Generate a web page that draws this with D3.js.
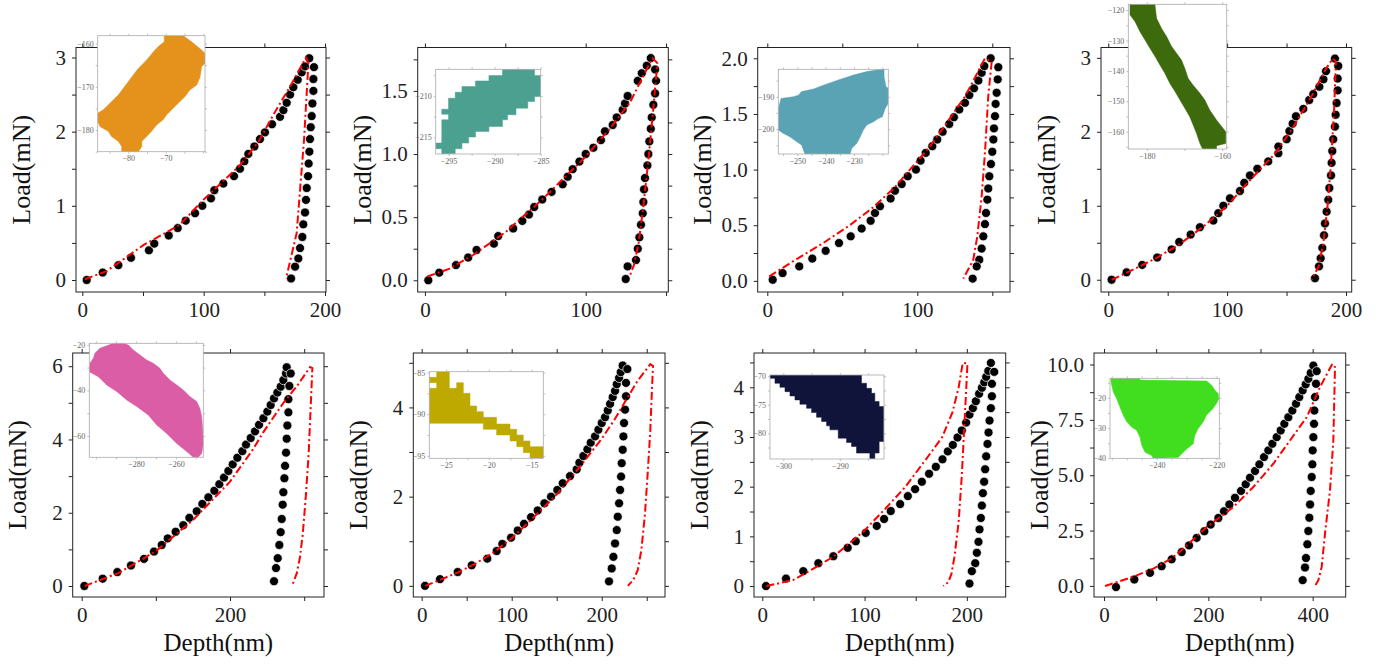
<!DOCTYPE html>
<html><head><meta charset="utf-8">
<script src="https://cdn.jsdelivr.net/npm/d3@7"></script>
<style>
body{margin:0;background:#fff}
svg{display:block}
text{font-family:"Liberation Serif","DejaVu Serif",serif}
</style>
</head><body>
<svg id="c" width="1384" height="669"></svg>
<script>
// ---------- experimental points (depth nm, load mN): loading then unloading ----------
const p1Dots=[[3.6,0],[16.8,0.10],[29.7,0.20],[40.1,0.30],[54.9,0.40],[59.3,0.49],[71.2,0.60],[78.6,0.70],[85.2,0.80],[92.9,0.90],[98.9,1.00],[106.0,1.10],[108.8,1.21],[116.2,1.30],[125.0,1.40],[129.9,1.50],[133.5,1.60],[136.8,1.70],[141.8,1.80],[146.4,1.90],[150.5,1.99],[156.3,2.10],[162.9,2.20],[165.7,2.29],[168.4,2.39],[171.2,2.50],[173.9,2.60],[177.5,2.70],[180.8,2.80],[183.5,2.88],[187.0,2.99],
 [190.9,2.87],[190.4,2.71],[190.4,2.55],[189.6,2.38],[189.0,2.21],[188.2,2.06],[187.6,1.90],[187.1,1.73],[186.5,1.57],[186.0,1.40],[184.9,1.24],[184.3,1.08],[183.5,0.91],[182.1,0.75],[181.3,0.58],[179.4,0.43],[178.0,0.29],[175.3,0.18],[172.0,0.02]];
const p2Dots=[[2.1,0.0],[8.9,0.06],[19.3,0.12],[26.9,0.18],[32.1,0.24],[42.9,0.29],[45.6,0.35],[54.9,0.41],[60.6,0.47],[64.7,0.52],[68.0,0.58],[73.0,0.64],[78.8,0.70],[85.7,0.76],[88.8,0.82],[91.9,0.88],[96.1,0.94],[100.0,1.00],[104.8,1.05],[109.5,1.11],[112.0,1.18],[116.8,1.23],[119.3,1.29],[123.0,1.35],[124.5,1.40],[126.1,1.46],[132.4,1.58],[134.9,1.64],[138.0,1.70],[140.5,1.76],
 [143.2,1.67],[143.8,1.58],[143.2,1.48],[142.1,1.39],[141.1,1.29],[140.5,1.20],[139.6,1.10],[139.0,1.00],[138.4,0.91],[136.9,0.81],[136.3,0.72],[135.9,0.62],[135.5,0.53],[134.4,0.44],[133.4,0.34],[132.4,0.25],[131.3,0.16],[126.1,0.11],[124.9,0.01]];
const p3Dots=[[3.6,0.01],[10.2,0.07],[21.3,0.13],[30.0,0.20],[38.9,0.27],[47.8,0.34],[55.6,0.40],[62.9,0.47],[68.9,0.54],[71.8,0.61],[75.1,0.67],[82.2,0.74],[85.1,0.81],[89.6,0.87],[93.6,0.94],[99.1,1.00],[102.2,1.08],[105.6,1.15],[110.0,1.21],[113.3,1.27],[116.9,1.34],[121.3,1.41],[124.4,1.47],[128.0,1.54],[131.8,1.60],[134.7,1.67],[137.8,1.73],[140.7,1.80],[142.9,1.87],[144.7,1.93],[148.9,2.00],
 [154.0,1.92],[153.6,1.81],[152.9,1.69],[152.2,1.59],[151.8,1.48],[151.1,1.37],[150.7,1.27],[150.0,1.16],[149.1,1.05],[148.0,0.94],[147.3,0.83],[146.7,0.73],[145.8,0.61],[145.1,0.51],[144.0,0.40],[142.9,0.29],[141.3,0.19],[139.6,0.13],[136.9,0.02]];
const p4Dots=[[2.8,0],[15.4,0.10],[28.6,0.20],[41.2,0.30],[53.3,0.41],[59.7,0.51],[69.3,0.61],[77.1,0.71],[88.4,0.80],[92.6,0.90],[96.8,1.00],[102.4,1.10],[110.8,1.20],[114.4,1.31],[119.2,1.41],[125.4,1.50],[134.6,1.60],[143.1,1.71],[143.1,1.80],[150.1,1.90],[152.4,2.01],[155.1,2.11],[157.9,2.21],[164.1,2.31],[169.1,2.43],[172.5,2.51],[177.6,2.61],[181.0,2.71],[183.2,2.82],[190.7,2.99],
 [193.5,2.89],[193.0,2.72],[193.0,2.56],[192.1,2.39],[191.3,2.23],[190.7,2.07],[189.3,1.90],[188.5,1.74],[187.9,1.58],[187.4,1.41],[186.0,1.24],[185.1,1.08],[183.7,0.92],[182.3,0.76],[181.5,0.60],[180.1,0.43],[178.7,0.29],[177.3,0.18],[173.9,0.02]];
const p5Dots=[[3.6,0],[28.3,0.20],[48.1,0.38],[66.5,0.56],[84.0,0.74],[97.5,0.94],[107.9,1.12],[116.0,1.30],[126.7,1.48],[137.0,1.66],[145.2,1.86],[155.1,2.04],[162.7,2.24],[170.8,2.42],[178.9,2.60],[185.6,2.78],[191.9,2.96],[197.8,3.14],[203.6,3.32],[209.9,3.50],[216.6,3.68],[221.6,3.86],[227.9,4.04],[233.7,4.22],[239.1,4.40],[245.0,4.58],[250.3,4.76],[254.8,4.94],[259.3,5.12],[263.8,5.28],[268.3,5.44],[271.9,5.62],[275.5,5.80],[276.4,5.97],
 [281.8,5.80],[280.0,5.46],[278.7,5.10],[278.7,4.74],[277.3,4.38],[276.4,4.02],[275.5,3.64],[274.2,3.28],[273.3,2.94],[271.9,2.56],[271.0,2.22],[269.7,1.83],[268.3,1.47],[266.5,1.12],[264.3,0.76],[262.0,0.49],[259.3,0.13]];
const p6Dots=[[3.7,0],[20.4,0.15],[40.0,0.31],[55.6,0.46],[72.9,0.61],[83.3,0.78],[89.6,0.94],[99.3,1.08],[106.7,1.24],[113.7,1.39],[121.5,1.54],[128.9,1.69],[136.3,1.85],[143.7,2.00],[150.7,2.15],[156.7,2.30],[164.8,2.46],[172.2,2.61],[175.2,2.76],[179.6,2.91],[184.1,3.06],[187.8,3.21],[192.6,3.35],[196.3,3.50],[200.0,3.65],[203.7,3.78],[206.7,3.93],[209.3,4.08],[212.2,4.23],[214.8,4.37],[216.7,4.52],[219.3,4.66],[221.1,4.79],[223.3,4.94],
 [228.5,4.86],[227.0,4.55],[227.0,4.25],[225.9,3.95],[224.8,3.65],[224.1,3.35],[223.3,3.05],[222.2,2.75],[221.5,2.45],[220.4,2.15],[219.3,1.85],[217.8,1.55],[216.7,1.25],[214.8,0.95],[213.0,0.65],[211.1,0.39],[208.1,0.10]];
const p7Dots=[[3.6,0],[23.2,0.15],[40.1,0.30],[54.8,0.46],[69.5,0.60],[83.5,0.77],[91.4,0.90],[101.1,1.07],[111.9,1.21],[119.1,1.35],[125.6,1.51],[134.8,1.65],[142.3,1.81],[149.4,1.95],[156.0,2.10],[163.1,2.26],[169.7,2.40],[176.2,2.55],[181.4,2.71],[186.3,2.84],[190.9,2.99],[195.1,3.13],[199.3,3.29],[202.6,3.45],[205.9,3.58],[208.8,3.72],[212.0,3.87],[214.7,3.99],[217.0,4.10],[218.9,4.21],[221.0,4.33],[223.5,4.49],
 [226.8,4.31],[224.5,4.07],[224.5,3.82],[223.5,3.58],[222.2,3.33],[221.2,3.09],[220.2,2.86],[218.9,2.61],[217.9,2.35],[216.9,2.10],[215.7,1.87],[214.7,1.62],[213.7,1.37],[212.4,1.14],[211.4,0.89],[209.8,0.67],[208.2,0.46],[204.9,0.30],[202.6,0.05]];
const p8Dots=[[23.0,-0.05],[58.1,0.29],[88.2,0.59],[110.5,0.89],[129.7,1.20],[148.9,1.53],[163.0,1.83],[177.6,2.17],[192.3,2.47],[204.5,2.77],[219.2,3.07],[230.0,3.37],[240.3,3.68],[251.1,3.98],[262.6,4.29],[271.6,4.59],[279.9,4.89],[289.5,5.19],[297.8,5.49],[306.7,5.82],[315.0,6.12],[322.7,6.42],[331.0,6.72],[338.7,7.02],[345.7,7.32],[353.4,7.62],[361.0,7.92],[368.1,8.23],[374.4,8.53],[380.8,8.83],[386.6,9.10],[391.7,9.35],[396.2,9.62],[401.3,9.95],
 [407.7,9.70],[406.4,9.13],[404.5,8.53],[403.2,7.92],[402.6,7.32],[401.3,6.72],[400.0,6.12],[399.4,5.49],[398.1,4.92],[396.2,4.29],[395.0,3.68],[393.6,3.08],[391.7,2.48],[389.8,1.88],[387.2,1.26],[385.3,0.83],[380.8,0.26]];

// ---------- simulated curves (red dash-dot) ----------
const p1Sim=[[2.2,0.01],[20,0.12],[50.3,0.47],[80,0.74],[99.7,1.08],[130,1.55],[145,1.86],[159.6,2.29],[172,2.63],[184.3,3.0],[186.3,2.92],[182.7,1.89],[176.6,0.63],[167.9,0.02]];
const p2Sim=[[1.5,0.03],[15,0.09],[30,0.2],[50,0.38],[73,0.64],[100,0.98],[115,1.2],[127.6,1.41],[141.5,1.76],[144.6,1.72],[142,1.35],[139,0.95],[136,0.6],[133,0.3],[130,0.12],[127.6,0.04]];
const p3Sim=[[1.3,0.04],[12.9,0.14],[25,0.24],[37.3,0.34],[55,0.5],[69.6,0.65],[85,0.84],[95.1,1.0],[108,1.2],[119.6,1.42],[132,1.66],[145.1,2.0],[149.6,1.97],[147.3,1.66],[145.1,1.15],[142.9,0.76],[140,0.4],[137.3,0.19],[130.7,0.02]];
const p4Sim=[[3,0],[20,0.13],[40,0.29],[60,0.48],[80,0.72],[100,1.0],[120,1.36],[140,1.7],[155,2.05],[170,2.45],[183,2.85],[189,2.99],[191.5,2.95],[190,2.3],[187.5,1.6],[184.5,1.0],[181,0.5],[177,0.18],[171,0]];
const p5Sim=[[4,0],[50,0.36],[100,0.95],[150,1.8],[200,2.85],[230,3.7],[245,4.2],[255,4.5],[272,5.0],[290,5.45],[308,5.98],[311,5.95],[309,5.0],[306,3.6],[302,2.4],[298,1.4],[294,0.75],[290,0.35],[284,0.02]];
const p6Sim=[[4,0],[20,0.13],[40,0.3],[60,0.5],[80,0.75],[100,1.07],[120,1.45],[150,2.05],[175,2.65],[200,3.3],[215,3.75],[228,4.2],[240,4.6],[254,4.97],[257,4.93],[256,4.5],[254,3.5],[251,2.5],[248,1.6],[244,0.8],[240,0.35],[235,0.13],[229,0]];
const p7Sim=[[4,0],[30,0.12],[50,0.35],[70,0.6],[99,1.1],[120,1.55],[140,2.0],[160,2.55],[176,3.0],[186,3.5],[192,4.0],[196,4.49],[200.6,4.48],[199,3.8],[197,3.0],[195,2.2],[192,1.3],[188,0.6],[185,0.25],[182,0.08],[177,0]];
const p8Sim=[[2,0],[56,0.41],[94.6,0.78],[130,1.25],[158.5,1.83],[196.8,2.66],[247.9,3.56],[286.3,4.47],[324.6,5.52],[356.5,6.57],[388.5,7.62],[414,8.98],[437.7,10.03],[442.8,9.88],[439.6,6.57],[433.2,4.32],[423.6,2.36],[417.3,0.86],[410.9,0.26],[404.5,0]];

// ---------- tick values ----------
const p1XTicks=[0,100,200], p1YTicks=[0,1,2,3];
const p2XTicks=[0,100], p2YTicks=[0,0.5,1.0,1.5];
const p3XTicks=[0,100], p3YTicks=[0,0.5,1.0,1.5,2.0];
const p4XTicks=[0,100,200], p4YTicks=[0,1,2,3];
const p5XTicks=[0,200], p5YTicks=[0,2,4,6];
const p6XTicks=[0,100,200], p6YTicks=[0,2,4];
const p7XTicks=[0,100,200], p7YTicks=[0,1,2,3,4];
const p8XTicks=[0,200,400], p8YTicks=[0,2.5,5.0,7.5,10.0];

// ---------- inset grain maps (outline polygons in map coordinates) ----------
const i1Shape=[[-70.4,-158.2],[-65.3,-158.2],[-63.1,-159.6],[-60.4,-161.5],[-59.5,-162.3],[-59.5,-164.6],[-60.4,-165.3],[-60.8,-167.7],[-61.7,-169.6],[-63.5,-170.7],[-64.9,-172.3],[-66.2,-173.4],[-68.4,-175.3],[-69.8,-176.5],[-70.7,-177.6],[-72.4,-178.8],[-73.8,-180.3],[-75.1,-181.5],[-76.4,-182.6],[-76.4,-183.8],[-77.3,-185],[-81.8,-185],[-81.8,-183.8],[-82.7,-182.6],[-84.5,-181.5],[-85.4,-180.3],[-87.6,-179.2],[-88.2,-178],[-88.2,-176.1],[-86.7,-175.3],[-85.4,-174.2],[-84.0,-173],[-82.7,-171.9],[-81.3,-170.3],[-80.0,-168.8],[-78.7,-167.3],[-77.3,-165.7],[-76.0,-164.6],[-74.7,-163.4],[-73.3,-161.9],[-72.0,-160.7],[-70.4,-159.6]];
const i2Shape=[[-289.15,-206.8],[-285.67,-206.8],[-285.67,-207.56],[-284.94,-207.56],[-284.94,-210.08],[-285.67,-210.08],[-285.67,-210.68],[-286.4,-210.68],[-286.4,-211.48],[-287.68,-211.48],[-287.68,-212.28],[-288.6,-212.28],[-288.6,-212.88],[-289.15,-212.88],[-289.15,-213.68],[-290.62,-213.68],[-290.62,-214.28],[-292.08,-214.28],[-292.08,-214.96],[-292.82,-214.96],[-292.82,-215.68],[-293.55,-215.68],[-293.55,-216.36],[-294.28,-216.36],[-294.28,-216.96],[-295.74,-216.96],[-295.74,-216.36],[-296.4,-216.36],[-296.4,-215.68],[-295.74,-215.68],[-295.74,-212.88],[-295.01,-212.88],[-295.01,-212.2],[-295.74,-212.2],[-295.74,-211.6],[-295.01,-211.6],[-295.01,-210.28],[-294.28,-210.28],[-294.28,-209.56],[-293.55,-209.56],[-293.55,-208.88],[-292.08,-208.88],[-292.08,-208.2],[-290.62,-208.2],[-290.62,-207.56],[-289.15,-207.56]];
const i3Shape=[[-255.75,-190.5],[-251.4,-190.0],[-249.6,-189.5],[-248.5,-188.4],[-244.3,-187.6],[-240.8,-186.4],[-235.5,-184.8],[-230.2,-183.3],[-225.5,-182.2],[-220.2,-181.5],[-219.4,-181.5],[-219.4,-183.8],[-218.7,-186.9],[-217.9,-187.4],[-217.9,-192.0],[-219.0,-193.6],[-220.0,-196.2],[-221.4,-196.7],[-223.1,-197.7],[-225.5,-198.7],[-226.7,-200.3],[-227.8,-202.4],[-229.0,-204.4],[-230.8,-206.0],[-231.4,-207.7],[-247.3,-207.7],[-248.5,-204.9],[-250.2,-203.9],[-252.6,-202.4],[-255.0,-201.3],[-256.7,-200.3],[-256.7,-193.8]];
const i4Shape=[[-184.45,-118.1],[-177.84,-118.1],[-177.4,-122.7],[-176.1,-126.0],[-174.75,-128.7],[-173.4,-132.0],[-172.1,-134.2],[-170.8,-136.4],[-169.9,-139.2],[-169.0,-142.5],[-167.7,-144.7],[-165.9,-147.4],[-164.6,-149.6],[-163.3,-152.9],[-161.5,-156.2],[-159.05,-160.0],[-159.05,-163.9],[-161.5,-164.6],[-161.5,-165.7],[-165.2,-165.7],[-165.9,-163.9],[-166.8,-160.6],[-167.7,-157.8],[-168.6,-155.1],[-169.9,-152.3],[-171.2,-149.6],[-172.5,-146.8],[-173.9,-144.1],[-175.2,-140.8],[-176.5,-138.1],[-177.8,-135.3],[-179.2,-132.5],[-180.5,-129.8],[-181.8,-127.1],[-183.1,-123.8],[-184.45,-121.6]];
const i5Shape=[[-303.3,-30.7],[-303.0,-28.1],[-301.3,-25.9],[-300.5,-23.7],[-298.0,-21.5],[-291.3,-19.3],[-286.3,-19.3],[-283.8,-20.0],[-281.3,-22.2],[-278.0,-24.4],[-274.6,-26.6],[-271.3,-28.1],[-268.0,-30.3],[-266.3,-32.5],[-263.0,-35.4],[-259.6,-37.6],[-256.3,-39.8],[-253.0,-42.7],[-249.6,-44.9],[-248.0,-47.9],[-247.1,-51.5],[-246.6,-57.4],[-246.3,-63.3],[-247.1,-67.7],[-248.8,-69.4],[-251.3,-69.4],[-254.6,-66.9],[-259.6,-63.3],[-264.6,-58.9],[-269.6,-55.2],[-273.8,-50.8],[-279.6,-47.1],[-284.6,-44.2],[-289.6,-40.5],[-294.6,-37.6],[-298.8,-34.0],[-303.3,-31.8]];
const i6Shape=[[-26.95,-85.58],[-26.09,-85.58],[-26.09,-84.9],[-24.61,-84.9],[-24.61,-86.9],[-23.76,-86.9],[-23.76,-86.22],[-22.98,-86.22],[-22.98,-87.5],[-22.2,-87.5],[-22.2,-89.02],[-21.42,-89.02],[-21.42,-89.7],[-20.65,-89.7],[-20.65,-90.38],[-19.1,-90.38],[-19.1,-91.18],[-17.53,-91.18],[-17.53,-91.82],[-16.75,-91.82],[-16.75,-92.5],[-15.98,-92.5],[-15.98,-93.22],[-15.2,-93.22],[-15.2,-93.9],[-13.65,-93.9],[-13.65,-95.3],[-15.2,-95.3],[-15.2,-94.62],[-15.98,-94.62],[-15.98,-93.9],[-16.75,-93.9],[-16.75,-93.22],[-17.53,-93.22],[-17.53,-92.5],[-19.1,-92.5],[-19.1,-91.82],[-20.65,-91.82],[-20.65,-91.1],[-26.95,-91.1],[-26.95,-86.9],[-26.09,-86.9],[-26.09,-86.22],[-26.95,-86.22]];
const i7Shape=[[-302.35,-69.8],[-286.18,-69.8],[-286.18,-71.25],[-285.29,-71.25],[-285.29,-72.13],[-284.41,-72.13],[-284.41,-73.0],[-283.82,-73.0],[-283.82,-74.45],[-283.06,-74.45],[-283.06,-75.33],[-282.23,-75.33],[-282.23,-81.43],[-283.06,-81.43],[-283.06,-83.47],[-283.82,-83.47],[-283.82,-84.46],[-284.7,-84.46],[-284.7,-83.47],[-287.06,-83.47],[-287.06,-82.31],[-287.94,-82.31],[-287.94,-81.61],[-288.82,-81.61],[-288.82,-80.85],[-290.29,-80.85],[-290.29,-79.4],[-291.76,-79.4],[-291.76,-78.7],[-292.35,-78.7],[-292.35,-77.94],[-293.23,-77.94],[-293.23,-77.19],[-294.12,-77.19],[-294.12,-76.37],[-295.0,-76.37],[-295.0,-75.62],[-295.88,-75.62],[-295.88,-74.92],[-297.06,-74.92],[-297.06,-74.16],[-297.94,-74.16],[-297.94,-73.46],[-298.82,-73.46],[-298.82,-72.71],[-299.7,-72.71],[-299.7,-71.95],[-300.59,-71.95],[-300.59,-71.25],[-301.47,-71.25],[-301.47,-70.38],[-302.35,-70.38]];
const i8Shape=[[-255.3,-13.5],[-245.6,-13.5],[-245.6,-14.1],[-223.4,-14.4],[-221.7,-15.7],[-220.6,-17.4],[-219.5,-18.5],[-219.2,-20.2],[-220.0,-21.8],[-221.2,-23.5],[-223.4,-25.7],[-224.5,-28.0],[-226.2,-30.2],[-227.3,-32.5],[-227.8,-35.2],[-230.0,-36.9],[-231.7,-38.6],[-232.8,-39.7],[-241.2,-40.0],[-241.7,-39.1],[-243.9,-38.0],[-245.0,-35.7],[-245.6,-33.0],[-246.7,-30.7],[-248.4,-29.6],[-250.0,-27.9],[-251.2,-25.7],[-252.3,-23.0],[-253.4,-20.2],[-254.5,-18.0],[-255.3,-14.6]];
const i1XTicks=[-80,-70], i1YTicks=[-160,-170,-180];
const i2XTicks=[-295,-290,-285], i2YTicks=[-210,-215];
const i3XTicks=[-250,-240,-230], i3YTicks=[-190,-200];
const i4XTicks=[-180,-160], i4YTicks=[-120,-130,-140,-150,-160];
const i5XTicks=[-280,-260], i5YTicks=[-20,-40,-60];
const i6XTicks=[-25,-20,-15], i6YTicks=[-85,-90,-95];
const i7XTicks=[-300,-290], i7YTicks=[-70,-75,-80];
const i8XTicks=[-240,-220], i8YTicks=[-20,-30,-40];
const insetColors=["#E4921B","#4BA08F","#5AA3B5","#3D6A0C","#DA5DA6","#BEA900","#10143A","#40DE1F"];

// ---------- layout ----------
const T1=47.5,B1=292,T2=353,B2=597;
const panels=[
 {dots:p1Dots,sim:p1Sim,box:[76,T1,326,B1],xd:[-5.2,200.8],yd:[-0.162,3.135],xt:p1XTicks,xm:50,yt:p1YTicks,ym:0.5,yf:"d",xl:false,
  ins:{shape:i1Shape,box:[97.7,35.7,205,151.7],xd:[-88.2,-59.5],yd:[-185,-158.2],xt:i1XTicks,xm:5,yt:i1YTicks,ym:5}},
 {dots:p2Dots,sim:p2Sim,box:[417.7,T1,668.3,B1],xd:[-4.5,151.4],yd:[-0.093,1.844],xt:p2XTicks,xm:50,yt:p2YTicks,ym:0.25,yf:".1f",xl:false,
  ins:{shape:i2Shape,box:[435.7,69.3,540.7,154],xd:[-296.4,-285],yd:[-217,-206.8],xt:i2XTicks,xm:2.5,yt:i2YTicks,ym:2.5}},
 {dots:p3Dots,sim:p3Sim,box:[757.7,T1,1010,B1],xd:[-6.4,161.8],yd:[-0.10,2.097],xt:p3XTicks,xm:50,yt:p3YTicks,ym:0.25,yf:".1f",xl:false,
  ins:{shape:i3Shape,box:[778.3,69.3,888.3,154],xd:[-256.7,-217.9],yd:[-207.7,-181.5],xt:i3XTicks,xm:5,yt:i3YTicks,ym:5}},
 {dots:p4Dots,sim:p4Sim,box:[1101,T1,1351.7,B1],xd:[-6.1,204.8],yd:[-0.166,3.14],xt:p4XTicks,xm:50,yt:p4YTicks,ym:0.5,yf:"d",xl:false,
  ins:{shape:i4Shape,box:[1128.3,4.3,1226.7,149],xd:[-184.9,-158.8],yd:[-165.7,-118.1],xt:i4XTicks,xm:10,yt:i4YTicks,ym:5}},
 {dots:p5Dots,sim:p5Sim,box:[72.7,T2,324,B2],xd:[-12.1,326.7],yd:[-0.30,6.36],xt:p5XTicks,xm:100,yt:p5YTicks,ym:1,yf:"d",xl:true,
  ins:{shape:i5Shape,box:[89.3,343.3,203.3,457.3],xd:[-303.3,-246.3],yd:[-69.4,-19.3],xt:i5XTicks,xm:10,yt:i5YTicks,ym:10}},
 {dots:p6Dots,sim:p6Sim,box:[413.3,T2,665,B2],xd:[-9.3,270.3],yd:[-0.25,5.22],xt:p6XTicks,xm:50,yt:p6YTicks,ym:1,yf:"d",xl:true,
  ins:{shape:i6Shape,box:[429.3,371.7,543.3,458.3],xd:[-26.95,-13.65],yd:[-95.3,-84.9],xt:i6XTicks,xm:2.5,yt:i6YTicks,ym:2.5}},
 {dots:p7Dots,sim:p7Sim,box:[754,T2,1005.7,B2],xd:[-8.1,238],yd:[-0.22,4.69],xt:p7XTicks,xm:50,yt:p7YTicks,ym:0.5,yf:"d",xl:true,
  ins:{shape:i7Shape,box:[770,375,884,459],xd:[-302.35,-282.2],yd:[-84.5,-69.8],xt:i7XTicks,xm:5,yt:i7YTicks,ym:2.5}},
 {dots:p8Dots,sim:p8Sim,box:[1094,T2,1345.7,B2],xd:[-19.2,463.3],yd:[-0.5,10.52],xt:p8XTicks,xm:100,yt:p8YTicks,ym:1.25,yf:".1f",xl:true,
  ins:{shape:i8Shape,box:[1110,378.3,1219.3,458.3],xd:[-255.6,-219.1],yd:[-40,-13.5],xt:i8XTicks,xm:5,yt:i8YTicks,ym:5}}
];

const svg=d3.select("#c");
const defs=svg.append("defs");

function allTicks(d,step){const a=Math.min(d[0],d[1]),b=Math.max(d[0],d[1]);
  return d3.range(Math.ceil(a/step-1e-9)*step,b+1e-9,step).map(v=>+v.toFixed(6));}
function has(arr,v){return arr.some(t=>Math.abs(t-v)<1e-6);}

function drawAxes(g,x,y,box,o){
  const [L,Tp,R,Bt]=box;
  const xs=allTicks(x.domain(),o.xm), ys=allTicks(y.domain(),o.ym);
  const xfmt=v=>has(o.xt,v)?o.xf(v):"", yfmt=v=>has(o.yt,v)?o.yf(v):"";
  const st=(s)=>{s.select(".domain").remove();
    s.selectAll("line").attr("stroke",o.tc).attr("stroke-width",o.tw);
    s.selectAll("text").attr("font-family","'Liberation Serif','DejaVu Serif',serif").attr("font-size",o.fs).attr("fill",o.lc);
    s.attr("font-family",null).attr("font-size",null);};
  g.append("g").attr("transform",`translate(0,${Bt})`).call(d3.axisBottom(x).tickValues(xs).tickFormat(xfmt).tickSize(o.ts).tickSizeOuter(0).tickPadding(o.tp)).call(st);
  g.append("g").attr("transform",`translate(0,${Tp})`).call(d3.axisTop(x).tickValues(xs).tickFormat("").tickSize(o.ts).tickSizeOuter(0)).call(st);
  g.append("g").attr("transform",`translate(${L},0)`).call(d3.axisLeft(y).tickValues(ys).tickFormat(yfmt).tickSize(o.ts).tickSizeOuter(0).tickPadding(o.tp)).call(st);
  g.append("g").attr("transform",`translate(${R},0)`).call(d3.axisRight(y).tickValues(ys).tickFormat("").tickSize(o.ts).tickSizeOuter(0)).call(st);
  g.append("rect").attr("x",L).attr("y",Tp).attr("width",R-L).attr("height",Bt-Tp).attr("fill","none").attr("stroke",o.fc).attr("stroke-width",o.fw);
}

panels.forEach((p,i)=>{
  const [L,Tp,R,Bt]=p.box;
  const g=svg.append("g");
  const x=d3.scaleLinear().domain(p.xd).range([L,R]);
  const y=d3.scaleLinear().domain(p.yd).range([Bt,Tp]);
  drawAxes(g,x,y,p.box,{xt:p.xt,xm:p.xm,yt:p.yt,ym:p.ym,xf:d3.format("d"),yf:d3.format(p.yf),ts:4,tp:6,fs:"21px",tc:"#222",tw:1,lc:"#222",fc:"#222",fw:1});
  // dots
  g.append("g").selectAll("circle").data(p.dots).join("circle")
    .attr("cx",d=>x(d[0])).attr("cy",d=>y(d[1])).attr("r",4.5)
    .attr("fill","#000").attr("stroke","#fff").attr("stroke-width",0.7);
  // simulation
  g.append("path").datum(p.sim).attr("d",d3.line().x(d=>x(d[0])).y(d=>y(d[1])))
    .attr("fill","none").attr("stroke","#ff0000").attr("stroke-width",2)
    .attr("stroke-dasharray","8,3,2,3");
  // labels
  g.append("text").attr("transform",`translate(${L-55},${(Tp+Bt)/2}) rotate(-90)`)
    .attr("text-anchor","middle").attr("dominant-baseline","central").attr("font-size","26px").attr("fill","#111").text("Load(mN)");
  if(p.xl) g.append("text").attr("x",(L+R)/2+20).attr("y",651).attr("text-anchor","middle")
    .attr("font-size","25px").attr("fill","#111").text("Depth(nm)");
  // inset
  const q=p.ins, [il,it,ir,ib]=q.box;
  const ig=svg.append("g");
  const ix=d3.scaleLinear().domain(q.xd).range([il,ir]);
  const iy=d3.scaleLinear().domain(q.yd).range([ib,it]);
  ig.append("rect").attr("x",il).attr("y",it).attr("width",ir-il).attr("height",ib-it).attr("fill","#fff");
  const cid="clip"+i;
  defs.append("clipPath").attr("id",cid).append("rect").attr("x",il).attr("y",it).attr("width",ir-il).attr("height",ib-it);
  ig.append("path").datum(q.shape).attr("clip-path",`url(#${cid})`)
    .attr("d",d3.line().x(d=>ix(d[0])).y(d=>iy(d[1])).curve(d3.curveLinearClosed))
    .attr("fill",insetColors[i]).attr("stroke",insetColors[i]).attr("stroke-width",0.5);
  drawAxes(ig,ix,iy,q.box,{xt:q.xt,xm:q.xm,yt:q.yt,ym:q.ym,xf:d3.format("d"),yf:d3.format("d"),ts:2,tp:2,fs:"8px",tc:"#999",tw:0.6,lc:"#666",fc:"#aaa",fw:0.8});
});
</script>
</body></html>
